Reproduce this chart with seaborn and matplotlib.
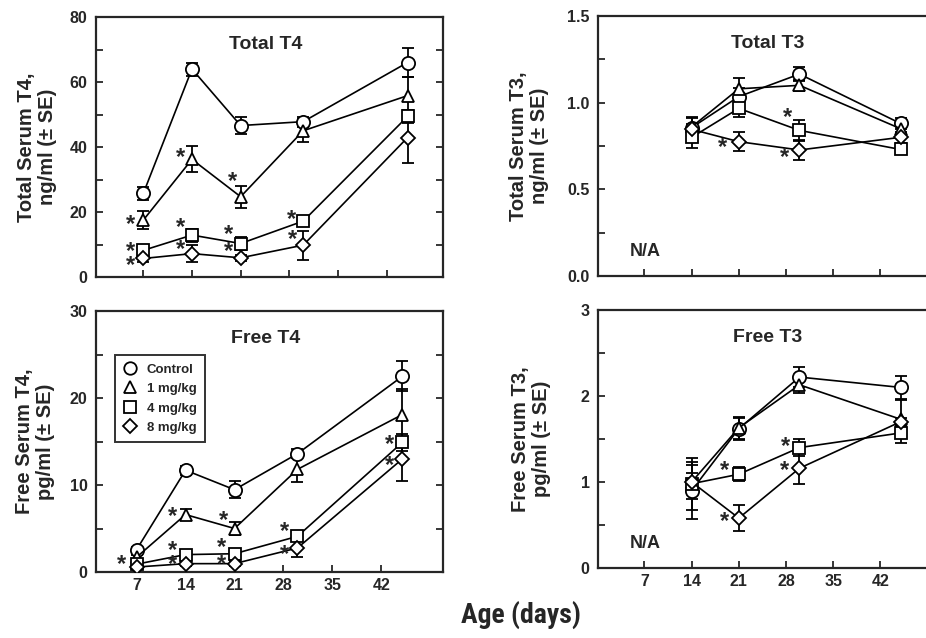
import numpy as np
import pandas as pd
import matplotlib
matplotlib.use("Agg")
import matplotlib.pyplot as plt
from matplotlib.lines import Line2D
from matplotlib.ticker import MultipleLocator, FixedLocator
from matplotlib import font_manager
import seaborn as sns

# ---------------- data ----------------
groups = ["Control", "1 mg/kg", "4 mg/kg", "8 mg/kg"]
days_t4 = [7, 14, 21, 30, 45]
days_t3 = [14, 21, 30, 45]
xtick_days = [7, 14, 21, 28, 35, 42]

# Total T4 (ng/ml)
tt4_control = [25.7, 64.0, 46.6, 47.8, 66.0]
tt4_1mg = [17.5, 36.2, 24.7, 45.0, 55.8]
tt4_4mg = [8.2, 12.9, 10.3, 17.2, 49.4]
tt4_8mg = [5.7, 7.2, 5.9, 9.8, 42.9]
tt4_control_se = [2.0, 2.0, 2.5, 1.5, 4.5]
tt4_1mg_se = [2.7, 4.0, 3.4, 3.5, 5.7]
tt4_4mg_se = [1.5, 2.0, 2.0, 1.5, 2.0]
tt4_8mg_se = [1.0, 2.5, 1.0, 4.5, 7.7]

# Total T3 (ng/ml)
tt3_control = [0.856, 1.035, 1.165, 0.88]
tt3_1mg = [0.86, 1.08, 1.10, 0.85]
tt3_4mg = [0.80, 0.967, 0.84, 0.73]
tt3_8mg = [0.846, 0.775, 0.727, 0.80]
tt3_control_se = [0.06, 0.05, 0.04, 0.03]
tt3_1mg_se = [0.05, 0.06, 0.03, 0.03]
tt3_4mg_se = [0.06, 0.05, 0.06, 0.02]
tt3_8mg_se = [0.03, 0.055, 0.06, 0.03]

# Free T4 (pg/ml)
ft4_control = [2.57, 11.7, 9.46, 13.6, 22.5]
ft4_1mg = [1.7, 6.6, 5.0, 11.8, 18.1]
ft4_4mg = [0.9, 2.0, 2.1, 4.1, 14.9]
ft4_8mg = [0.57, 0.96, 0.96, 2.76, 13.0]
ft4_control_se = [0.3, 0.5, 1.0, 0.5, 1.75]
ft4_1mg_se = [0.3, 0.6, 0.8, 1.4, 2.9]
ft4_4mg_se = [0.2, 0.4, 0.4, 0.4, 1.0]
ft4_8mg_se = [0.2, 0.3, 0.3, 1.0, 2.5]

# Free T3 (pg/ml)
ft3_control = [0.90, 1.62, 2.22, 2.10]
ft3_1mg = [1.00, 1.63, 2.13, 1.73]
ft3_4mg = [0.98, 1.09, 1.40, 1.57]
ft3_8mg = [1.00, 0.58, 1.16, 1.70]
ft3_control_se = [0.33, 0.13, 0.12, 0.13]
ft3_1mg_se = [0.10, 0.13, 0.10, 0.22]
ft3_4mg_se = [0.30, 0.08, 0.10, 0.12]
ft3_8mg_se = [0.20, 0.15, 0.18, 0.05]

# significance asterisks (day, value)
tt4_star_x = [5.1, 12.3, 19.8, 5.1, 5.1, 12.3, 12.3, 19.3, 19.3, 28.3, 28.5]
tt4_star_y = [16.5, 37.0, 29.8, 8.2, 3.9, 15.4, 8.7, 13.4, 8.2, 18.0, 11.8]
tt3_star_x = [18.6, 28.3, 27.8]
tt3_star_y = [0.746, 0.919, 0.692]
ft4_star_x = [4.9, 12.2, 19.4, 12.2, 12.2, 19.1, 19.1, 28.2, 28.2, 43.2, 43.2]
ft4_star_y = [0.96, 6.44, 6.0, 2.6, 0.95, 2.95, 0.95, 4.79, 2.18, 14.8, 12.3]
ft3_star_x = [18.9, 18.9, 28.0, 27.8]
ft3_star_y = [1.14, 0.555, 1.43, 1.14]

# ---------------- style ----------------
sns.set_style("ticks")
plt.rcParams["font.family"] = ["Liberation Sans", "DejaVu Sans"]
plt.rcParams["font.weight"] = "bold"
plt.rcParams["axes.linewidth"] = 1.6
plt.rcParams["mathtext.fontset"] = "custom"
plt.rcParams["mathtext.rm"] = "Liberation Sans:bold"
plt.rcParams["mathtext.bf"] = "Liberation Sans:bold"

markers = {"Control": "o", "1 mg/kg": "^", "4 mg/kg": "s", "8 mg/kg": "D"}
msizes = {"o": 9.5, "^": 8.5, "s": 8.5, "D": 7.5}


def find_condensed():
    prefs = ["Liberation Sans Narrow", "Roboto Condensed", "DejaVu Sans Condensed",
             "Open Sans Condensed", "Noto Sans Condensed"]
    cands = []
    for f in font_manager.fontManager.ttflist:
        name = f.fname.lower()
        if ("narrow" in name or "condensed" in name) and ("bold" in name) and ("italic" not in name and "oblique" not in name):
            cands.append(f.fname)
    for p in prefs:
        key = p.lower().replace(" ", "")
        for c in cands:
            if key in c.lower().replace("-", "").replace("_", "").replace(" ", ""):
                return c
    return cands[0] if cands else None


fig = plt.figure(figsize=(9.26, 6.38), dpi=100)
W = 347 / 926


def ax_at(left_px, top_px, bottom_px):
    return fig.add_axes([left_px / 926, 1 - bottom_px / 638, W, (bottom_px - top_px) / 638])


ax_tt4 = ax_at(96, 17, 277)
ax_tt3 = ax_at(598, 16, 276)
ax_ft4 = ax_at(96, 311, 572)
ax_ft3 = ax_at(598, 310, 568)


def panel(ax, days, series, ses, ylim, ymajor, yminor, xlim, title, ylabel, ylab_x,
          star_x, star_y, show_xlabels, na=False):
    rows = []
    for g, vals in zip(groups, series):
        for d, v in zip(days, vals):
            rows.append({"day": d, "value": v, "group": g})
    df = pd.DataFrame(rows)
    for vals, se in zip(series, ses):
        ax.errorbar(days, vals, yerr=se, fmt="none", ecolor="black", elinewidth=1.3,
                    capsize=4, capthick=1.3, zorder=2)
    sns.lineplot(data=df, x="day", y="value", hue="group", style="group",
                 hue_order=groups, style_order=groups, markers=markers, dashes=False,
                 palette=["black"] * 4, legend=False, errorbar=None, ax=ax,
                 linewidth=1.2, markersize=9, markerfacecolor="white",
                 markeredgecolor="black", markeredgewidth=1.3, zorder=3)
    for ln in ax.lines:
        m = ln.get_marker()
        if m in msizes:
            ln.set_markersize(msizes[m])
            ln.set_markerfacecolor("white")
            ln.set_markeredgecolor("black")
    ax.set_xlim(*xlim)
    ax.set_ylim(*ylim)
    ax.xaxis.set_major_locator(FixedLocator(xtick_days))
    ax.yaxis.set_major_locator(MultipleLocator(ymajor))
    ax.yaxis.set_minor_locator(MultipleLocator(yminor))
    ax.tick_params(axis="y", which="both", direction="in", left=True, right=True,
                   length=5, width=1.3, labelsize=11.5, pad=6)
    ax.tick_params(axis="x", direction="in", bottom=True, top=False, length=5,
                   width=1.3, labelsize=11.5, pad=4, labelbottom=show_xlabels)
    ax.set_xlabel("")
    ax.set_ylabel("")
    for s in ax.spines.values():
        s.set_visible(True)
        s.set_linewidth(1.6)
    ax.text(0.49, 0.895, title, transform=ax.transAxes, ha="center", va="center",
            fontsize=14, fontweight="bold")
    ax.text(ylab_x, 0.5, ylabel, transform=ax.transAxes, ha="center", va="center",
            rotation=90, fontsize=14.5, fontweight="bold", linespacing=1.15)
    for sx, sy in zip(star_x, star_y):
        ax.text(sx, sy, r"$\mathbf{*}$", ha="center", va="center", fontsize=17,
                zorder=4)
    if na:
        ax.text(0.092, 0.095, "N/A", transform=ax.transAxes, ha="left", va="center",
                fontsize=13, fontweight="bold")


panel(ax_tt4, days_t4, [tt4_control, tt4_1mg, tt4_4mg, tt4_8mg],
      [tt4_control_se, tt4_1mg_se, tt4_4mg_se, tt4_8mg_se],
      (0, 80), 20, 10, (0.2, 50.1), "Total T4", "Total Serum T4,\nng/ml (\u00b1 SE)", -0.169,
      tt4_star_x, tt4_star_y, False)
panel(ax_tt3, days_t3, [tt3_control, tt3_1mg, tt3_4mg, tt3_8mg],
      [tt3_control_se, tt3_1mg_se, tt3_4mg_se, tt3_8mg_se],
      (0, 1.5), 0.5, 0.25, (0.1, 51.6), "Total T3", "Total Serum T3,\nng/ml (\u00b1 SE)", -0.199,
      tt3_star_x, tt3_star_y, False, na=True)
panel(ax_ft4, days_t4, [ft4_control, ft4_1mg, ft4_4mg, ft4_8mg],
      [ft4_control_se, ft4_1mg_se, ft4_4mg_se, ft4_8mg_se],
      (0, 30), 10, 5, (1.2, 50.8), "Free T4", "Free Serum T4,\npg/ml (\u00b1 SE)", -0.176,
      ft4_star_x, ft4_star_y, True)
panel(ax_ft3, days_t3, [ft3_control, ft3_1mg, ft3_4mg, ft3_8mg],
      [ft3_control_se, ft3_1mg_se, ft3_4mg_se, ft3_8mg_se],
      (0, 3), 1, 0.5, (0.1, 51.6), "Free T3", "Free Serum T3,\npg/ml (\u00b1 SE)", -0.193,
      ft3_star_x, ft3_star_y, True, na=True)

ax_tt3.yaxis.set_major_formatter(matplotlib.ticker.FormatStrFormatter("%.1f"))
for ax in (ax_tt4, ax_tt3, ax_ft4, ax_ft3):
    for lab in ax.get_xticklabels() + ax.get_yticklabels():
        lab.set_fontweight("bold")

# legend
handles = [Line2D([], [], linestyle="none", marker=markers[g], markersize=msizes[markers[g]] - 0.5,
                  markerfacecolor="white", markeredgecolor="black", markeredgewidth=1.3)
           for g in groups]
leg = ax_ft4.legend(handles, groups, loc="upper left", bbox_to_anchor=(0.055, 0.83),
                    borderaxespad=0, frameon=True, fancybox=False, edgecolor="black",
                    prop={"size": 9.5, "weight": "bold"}, handlelength=1.0,
                    handletextpad=0.8, labelspacing=0.55, borderpad=0.6)
leg.get_frame().set_linewidth(1.4)

cond = find_condensed()
if cond:
    fp = font_manager.FontProperties(fname=cond, size=20)
    fig.text(521 / 926, 1 - 615 / 638, "Age (days)", ha="center", va="center",
             fontproperties=fp)
else:
    fig.text(521 / 926, 1 - 615 / 638, "Age (days)", ha="center", va="center",
             fontsize=16, fontweight="bold", fontstretch="condensed",
             family=["DejaVu Sans"])

fig.savefig("out.png", dpi=100)
